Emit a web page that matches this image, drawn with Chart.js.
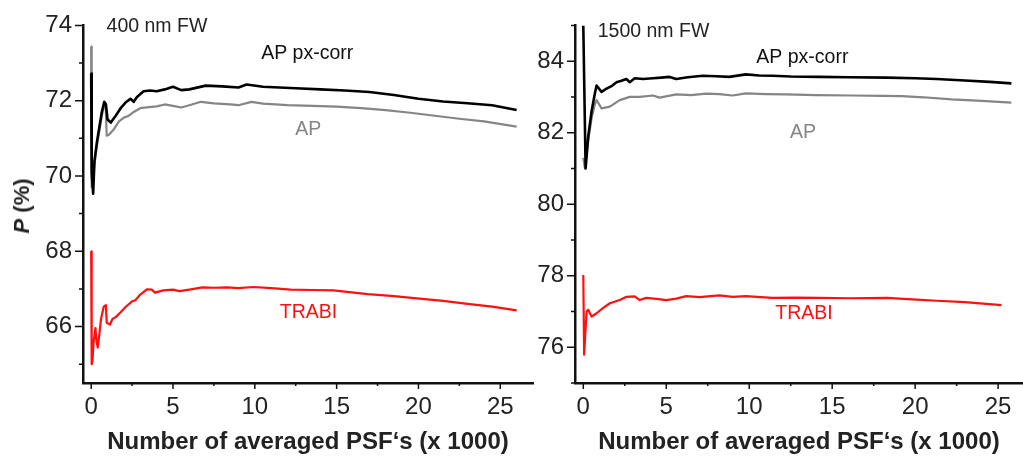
<!DOCTYPE html>
<html>
<head>
<meta charset="utf-8">
<script src="https://cdn.jsdelivr.net/npm/chart.js@4/dist/chart.umd.min.js"></script>
<style>
  html, body { margin: 0; padding: 0; background: #fff; }
  #wrap { position: relative; width: 1023px; height: 459px; background: #fff; overflow: hidden; }
  .panel { position: absolute; top: 0; height: 459px; }
  #ytitle {
    position: absolute; left: 22px; top: 206px;
    transform: translate(-50%, -50%) rotate(-90deg);
    font: bold 22px "Liberation Sans", Arial, sans-serif; color: #222; white-space: nowrap;
  }
</style>
</head>
<body>
<div id="wrap">
  <div class="panel" style="left:0;width:540px"><canvas id="c400"></canvas></div>
  <div class="panel" style="left:520px;width:503px"><canvas id="c1500"></canvas></div>
  <div id="ytitle"><i>P</i> (%)</div>
</div>
<script>
// 400 nm FW
const pxcorr400X = [0, 0.03, 0.12, 0.2, 0.35, 0.5, 0.65, 0.8, 0.9, 1.0, 1.2, 1.5, 1.8, 2.1, 2.4, 2.6, 2.8, 3.2, 3.6, 4.0, 4.5, 5.0, 5.5, 6.0, 7.0, 8.0, 9.0, 9.5, 10.5, 11.5, 12.5, 14, 15.5, 17, 18.5, 20, 21.5, 23, 24.5, 26];
const pxcorr400Y = [72.72, 70.1, 69.53, 70.4, 70.9, 71.3, 71.7, 71.97, 71.9, 71.5, 71.42, 71.6, 71.8, 71.95, 72.05, 71.97, 72.1, 72.25, 72.27, 72.25, 72.3, 72.37, 72.28, 72.3, 72.4, 72.38, 72.35, 72.43, 72.37, 72.35, 72.33, 72.3, 72.27, 72.23, 72.15, 72.05, 71.98, 71.93, 71.88, 71.75];
const ap400X = [0, 0.03, 0.1, 0.2, 0.35, 0.5, 0.65, 0.8, 0.88, 0.95, 1.1, 1.4, 1.7, 2.0, 2.3, 2.6, 3.0, 3.4, 4.0, 4.5, 5.0, 5.5, 6.0, 6.7, 7.5, 8.5, 9.0, 9.8, 10.5, 12, 13.5, 15, 16.5, 18, 19.5, 21, 22.5, 24, 26];
const ap400Y = [73.44, 69.7, 69.9, 70.3, 70.8, 71.2, 71.6, 71.9, 71.93, 71.07, 71.1, 71.25, 71.45, 71.55, 71.6, 71.7, 71.8, 71.82, 71.85, 71.9, 71.86, 71.82, 71.88, 71.97, 71.93, 71.9, 71.88, 71.97, 71.92, 71.88, 71.86, 71.84, 71.8, 71.75, 71.68, 71.6, 71.52, 71.45, 71.31];
const trabi400X = [0, 0.03, 0.08, 0.15, 0.26, 0.33, 0.4, 0.5, 0.6, 0.77, 0.9, 0.95, 1.15, 1.3, 1.5, 1.8, 2.1, 2.5, 2.7, 3.0, 3.4, 3.7, 3.9, 4.4, 5.0, 5.4, 6.0, 6.8, 7.5, 8.3, 9.0, 9.9, 11, 12.2, 13.5, 14.8, 16.9, 18.5, 19.9, 21.5, 23, 24.5, 26];
const trabi400Y = [68.0, 65.0, 65.1, 65.6, 65.96, 65.6, 65.44, 65.8, 66.2, 66.53, 66.57, 66.1, 66.05, 66.2, 66.25, 66.38, 66.52, 66.67, 66.7, 66.85, 66.99, 66.98, 66.9, 66.96, 66.98, 66.94, 66.98, 67.04, 67.03, 67.04, 67.02, 67.05, 67.02, 66.98, 66.97, 66.96, 66.86, 66.81, 66.75, 66.68, 66.6, 66.53, 66.43];

// 1500 nm FW
const pxcorr1500X = [0, 0.14, 0.3, 0.5, 0.7, 0.8, 1.1, 1.4, 1.7, 2.0, 2.3, 2.6, 2.8, 3.1, 3.6, 4.2, 4.7, 5.2, 5.6, 6.3, 7.2, 8.0, 8.8, 9.8, 10.6, 11.4, 12.5, 14.2, 16, 18.3, 20, 21.3, 23, 24.5, 25.8];
const pxcorr1500Y = [85.0, 81.0, 81.9, 82.6, 83.1, 83.32, 83.14, 83.23, 83.3, 83.41, 83.45, 83.5, 83.41, 83.52, 83.5, 83.52, 83.54, 83.56, 83.5, 83.55, 83.59, 83.58, 83.56, 83.63, 83.6, 83.59, 83.57, 83.56, 83.55, 83.54, 83.52, 83.5, 83.46, 83.42, 83.38];
const ap1500X = [0, 0.1, 0.3, 0.5, 0.7, 0.8, 1.1, 1.6, 2.2, 2.8, 3.4, 4.2, 4.6, 5.6, 6.5, 7.4, 8.2, 9.0, 9.8, 11, 12.2, 14, 16.2, 18, 19.2, 20.5, 22.2, 24, 25.8];
const ap1500Y = [81.3, 81.0, 81.8, 82.4, 82.8, 82.91, 82.68, 82.73, 82.91, 83.0, 83.0, 83.04, 82.98, 83.07, 83.05, 83.09, 83.08, 83.04, 83.1, 83.08, 83.07, 83.05, 83.04, 83.03, 83.02, 82.99, 82.93, 82.89, 82.84];
const trabi1500X = [0, 0.05, 0.2, 0.3, 0.4, 0.5, 0.8, 1.2, 1.6, 2.2, 2.6, 3.1, 3.4, 3.8, 4.4, 5.0, 5.6, 6.2, 7.0, 8.2, 9.0, 9.8, 11.4, 12.8, 14.2, 16, 18.3, 19.8, 21.3, 23, 25.2];
const trabi1500Y = [78.02, 75.79, 77.0, 77.05, 76.95, 76.86, 76.95, 77.1, 77.23, 77.32, 77.41, 77.42, 77.32, 77.38, 77.35, 77.32, 77.36, 77.43, 77.4, 77.45, 77.41, 77.43, 77.38, 77.39, 77.38, 77.37, 77.38, 77.34, 77.3, 77.26, 77.18];

// ticks
const xTicks = [0, 5, 10, 15, 20, 25];
const xMinorTicks = [2.5, 7.5, 12.5, 17.5, 22.5];
const yTicks400 = [66, 68, 70, 72, 74];
const yMinorTicks400 = [65, 67, 69, 71, 73];
const yTicks1500 = [76, 78, 80, 82, 84];
const yMinorTicks1500 = [75, 77, 79, 81, 83, 85];

const FONT = '"Liberation Sans", Arial, sans-serif';
const BLACK = '#000000', GRAY = '#858585', RED = '#ff1010';

function pts(xs, ys) {
    return xs.map((x, i) => ({ x: x, y: ys[i] }));
}

// 刻度线（主/次）
const tickMarks = {
    id: 'tickMarks',
    afterDraw(chart, args, o) {
        const ctx = chart.ctx, a = chart.chartArea;
        const x = chart.scales.x, y = chart.scales.y;
        ctx.save();
        ctx.strokeStyle = '#111';
        ctx.lineWidth = 1.5;
        ctx.beginPath();
        o.yMajor.forEach(v => { const p = y.getPixelForValue(v); ctx.moveTo(a.left, p); ctx.lineTo(a.left - 8, p); });
        o.yMinor.forEach(v => { const p = y.getPixelForValue(v); ctx.moveTo(a.left, p); ctx.lineTo(a.left - 4, p); });
        o.xMajor.forEach(v => { const p = x.getPixelForValue(v); ctx.moveTo(p, a.bottom); ctx.lineTo(p, a.bottom + 6); });
        o.xMinor.forEach(v => { const p = x.getPixelForValue(v); ctx.moveTo(p, a.bottom); ctx.lineTo(p, a.bottom + 3); });
        ctx.stroke();
        ctx.restore();
    }
};

// 图内文字
const notes = {
    id: 'notes',
    afterDraw(chart, args, o) {
        const ctx = chart.ctx;
        const x = chart.scales.x, y = chart.scales.y;
        ctx.save();
        ctx.textBaseline = 'middle';
        o.items.forEach(n => {
            ctx.font = '19.5px ' + FONT;
            ctx.fillStyle = n.color;
            ctx.textAlign = n.align || 'center';
            ctx.fillText(n.text, x.getPixelForValue(n.x), y.getPixelForValue(n.y));
        });
        ctx.restore();
    }
};

function makeChart(id, cfg) {
    return new Chart(document.getElementById(id), {
        type: 'line',
        data: {
            datasets: [
                { data: pts(cfg.pxX, cfg.pxY), borderColor: BLACK, borderWidth: 2.6 },
                { data: pts(cfg.apX, cfg.apY), borderColor: GRAY, borderWidth: 2.2 },
                { data: pts(cfg.trX, cfg.trY), borderColor: RED, borderWidth: 2.2 }
            ]
        },
        options: {
            responsive: true,
            maintainAspectRatio: false,
            animation: false,
            parsing: true,
            elements: { point: { radius: 0 }, line: { tension: 0, borderJoinStyle: 'round' } },
            layout: { padding: cfg.padding },
            plugins: {
                legend: { display: false },
                tooltip: { enabled: false },
                tickMarks: { xMajor: xTicks, xMinor: xMinorTicks, yMajor: cfg.yTicks, yMinor: cfg.yMinor },
                notes: { items: cfg.notes }
            },
            scales: {
                x: {
                    type: 'linear',
                    min: -0.5,
                    max: cfg.xMax,
                    afterBuildTicks: s => { s.ticks = xTicks.map(v => ({ value: v })); },
                    afterFit: s => { s.height = 76; },
                    grid: { display: false, drawTicks: false },
                    border: { display: true, color: '#111', width: 2.5 },
                    ticks: { font: { family: FONT, size: 24 }, color: '#222', padding: 10, maxRotation: 0 },
                    title: {
                        display: true,
                        text: 'Number of averaged PSF\u2018s (x 1000)',
                        font: { family: FONT, size: 24, weight: 'bold' },
                        color: '#222',
                        padding: { top: 0, bottom: 2 }
                    }
                },
                y: {
                    min: cfg.yMin,
                    max: cfg.yMax,
                    afterBuildTicks: s => { s.ticks = cfg.yTicks.map(v => ({ value: v })); },
                    afterFit: s => { s.width = cfg.yWidth; },
                    grid: { display: false, drawTicks: false },
                    border: { display: true, color: '#111', width: 2.5 },
                    ticks: { font: { family: FONT, size: 24 }, color: '#222', padding: 11 }
                }
            }
        },
        plugins: [tickMarks, notes]
    });
}

makeChart('c400', {
    pxX: pxcorr400X, pxY: pxcorr400Y, apX: ap400X, apY: ap400Y, trX: trabi400X, trY: trabi400Y,
    yMin: 64.5, yMax: 74, xMax: 27, yWidth: 83,
    yTicks: yTicks400, yMinor: yMinorTicks400,
    padding: { left: 0, right: 7, top: 22, bottom: 0 },
    notes: [
        { text: '400 nm FW', x: 0.94, y: 73.96, color: '#222', align: 'left' },
        { text: 'AP px-corr', x: 13.2, y: 73.26, color: '#111' },
        { text: 'AP', x: 13.27, y: 71.24, color: GRAY },
        { text: 'TRABI', x: 13.28, y: 66.38, color: RED }
    ]
});

makeChart('c1500', {
    pxX: pxcorr1500X, pxY: pxcorr1500Y, apX: ap1500X, apY: ap1500Y, trX: trabi1500X, trY: trabi1500Y,
    yMin: 75, yMax: 85, xMax: 26.5, yWidth: 55,
    yTicks: yTicks1500, yMinor: yMinorTicks1500,
    padding: { left: 0, right: 0, top: 17, bottom: 0 },
    notes: [
        { text: '1500 nm FW', x: 0.87, y: 84.82, color: '#222', align: 'left' },
        { text: 'AP px-corr', x: 13.2, y: 84.09, color: '#111' },
        { text: 'AP', x: 13.24, y: 82.0, color: GRAY },
        { text: 'TRABI', x: 13.3, y: 76.93, color: RED }
    ]
});
</script>
</body>
</html>
